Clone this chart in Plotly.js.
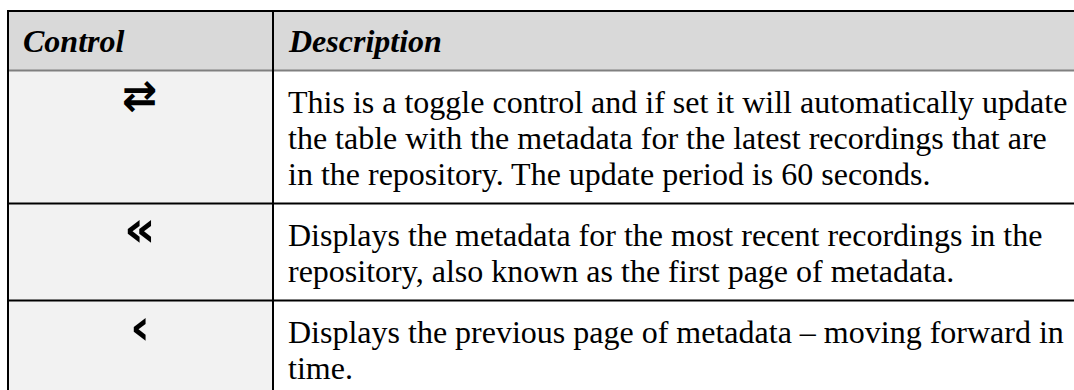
<!DOCTYPE html>
<html>
<head>
<meta charset="utf-8">
<script src="https://cdn.plot.ly/plotly-3.0.1.min.js"></script>
<style>
  html, body { margin: 0; padding: 0; background: #ffffff; overflow: hidden; }
  #chart { width: 1074px; height: 390px; }
</style>
</head>
<body>
<div id="chart"></div>
<script>
// ---- data ----
const columnHeaders = ["Control", "Description"];
const controlIcons = ["\u21C4", "\u00AB", "\u2039"];
const descriptionRow1 = [
  "This is a toggle control and if set it will automatically update",
  "the table with the metadata for the latest recordings that are",
  "in the repository. The update period is 60 seconds."
];
const descriptionRow2 = [
  "Displays the metadata for the most recent recordings in the",
  "repository, also known as the first page of metadata."
];
const descriptionRow3 = [
  "Displays the previous page of metadata \u2013 moving forward in",
  "time."
];
const descriptionRows = [descriptionRow1, descriptionRow2, descriptionRow3];

// ---- layout / style constants (not data) ----
const W = 1074, H = 390;
const tableLeft = 8, colDivider = 273, tableRight = W + 20;
const tableTop = 11, headerHeight = 59.5;
const lineStep = 36, firstBaseline = 42, rowExtra = 61;
const fontSize = 32;
const textFont = "Liberation Serif, Times New Roman, serif";
const iconFont = "DejaVu Sans, sans-serif";
const iconSizeStyle = [42, 49, 49];
const iconOffsetStyle = [25, 26, 27];
const baseToMid = 11;

const shapes = [];
const annotations = [];

// backgrounds
const headerBottom = tableTop + headerHeight;
shapes.push({type: "rect", xref: "x", yref: "y", x0: tableLeft, x1: tableRight,
  y0: tableTop, y1: headerBottom, fillcolor: "#d9d9d9", line: {width: 0}, layer: "below"});
shapes.push({type: "rect", xref: "x", yref: "y", x0: tableLeft, x1: colDivider,
  y0: headerBottom, y1: H + 20, fillcolor: "#f2f2f2", line: {width: 0}, layer: "below"});

// header text
columnHeaders.forEach((h, c) => {
  annotations.push({x: (c === 0 ? tableLeft : colDivider) + 13, y: tableTop + 40.5 - baseToMid,
    xref: "x", yref: "y", text: "<b><i>" + h + "</i></b>", showarrow: false,
    xanchor: "left", yanchor: "middle",
    font: {family: textFont, size: fontSize, color: "#000"}});
});

// rows
let rowTop = headerBottom;
const rowBounds = [];
descriptionRows.forEach((lines, r) => {
  lines.forEach((ln, i) => {
    annotations.push({x: colDivider + 13, y: rowTop + firstBaseline + lineStep * i - baseToMid,
      xref: "x", yref: "y", text: ln, showarrow: false, xanchor: "left", yanchor: "middle",
      font: {family: textFont, size: fontSize, color: "#000"}});
  });
  annotations.push({x: (tableLeft + colDivider) / 2 - 1, y: rowTop + iconOffsetStyle[r], xref: "x", yref: "y",
    text: "<b>" + controlIcons[r] + "</b>", showarrow: false, xanchor: "center", yanchor: "middle",
    font: {family: iconFont, size: iconSizeStyle[r], color: "#000"}});
  rowTop = rowTop + rowExtra + lineStep * (lines.length - 1);
  rowBounds.push(rowTop);
});

// borders
const black = {color: "#000000", width: 2};
shapes.push({type: "line", xref: "x", yref: "y", x0: tableLeft - 1, x1: tableRight, y0: tableTop, y1: tableTop, line: black});
shapes.push({type: "line", xref: "x", yref: "y", x0: tableLeft, x1: tableRight, y0: headerBottom, y1: headerBottom,
  line: {color: "#808080", width: 2}});
rowBounds.slice(0, -1).forEach(yb => {
  shapes.push({type: "line", xref: "x", yref: "y", x0: tableLeft, x1: tableRight, y0: yb, y1: yb, line: black});
});
shapes.push({type: "line", xref: "x", yref: "y", x0: tableLeft, x1: tableLeft, y0: tableTop, y1: H + 20, line: black});
shapes.push({type: "line", xref: "x", yref: "y", x0: colDivider, x1: colDivider, y0: tableTop, y1: H + 20, line: black});

const layout = {
  width: W, height: H,
  margin: {l: 0, r: 0, t: 0, b: 0, pad: 0},
  paper_bgcolor: "#ffffff", plot_bgcolor: "rgba(0,0,0,0)",
  showlegend: false,
  xaxis: {range: [0, W], visible: false, fixedrange: true},
  yaxis: {range: [H, 0], visible: false, fixedrange: true},
  shapes: shapes,
  annotations: annotations
};

Plotly.newPlot("chart", [{x: [], y: [], type: "scatter", mode: "markers", hoverinfo: "skip"}], layout,
  {displayModeBar: false, staticPlot: true});
</script>
</body>
</html>
